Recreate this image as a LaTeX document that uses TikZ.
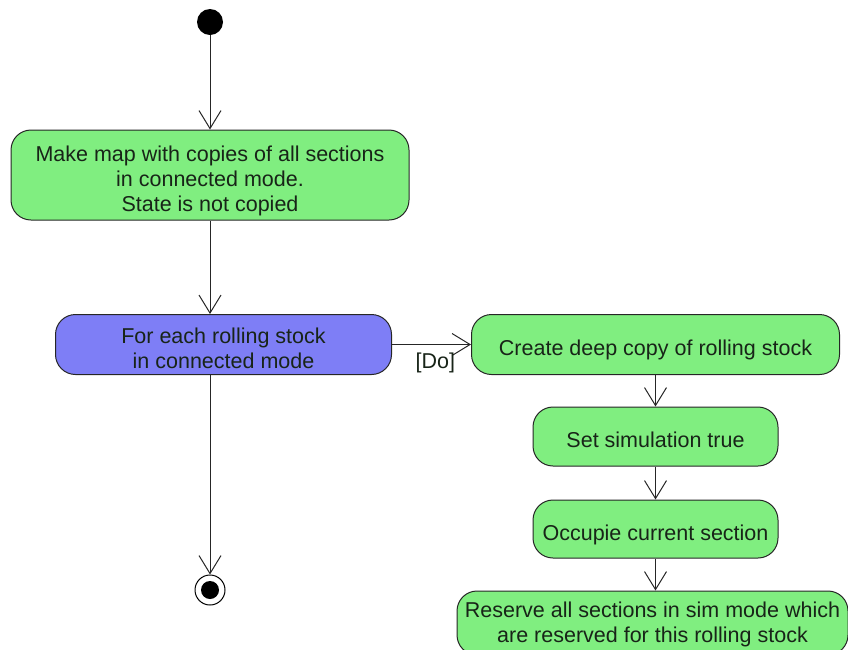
\documentclass[tikz,border=0pt]{standalone}
\usepackage{fontspec}
\setmainfont{Liberation Sans}
\usetikzlibrary{arrows.meta}
\definecolor{actgreen}{RGB}{128,238,128}
\definecolor{actblue}{RGB}{126,126,246}
\definecolor{inkdark}{RGB}{24,36,24}
% centred block of lines, set a little below the middle of its box
\newcommand\acttext[2][6pt]{\raisebox{-#1}[\height][\depth]{\begin{tabular}{@{}c@{}}#2\end{tabular}}}
\begin{document}
\begin{tikzpicture}[x=1pt,y=-1pt,
  action/.style={draw=black!85,line width=1pt,rounded corners=20pt,fill=actgreen,
    text=inkdark,inner sep=0pt,
    font=\fontsize{21.5}{25}\selectfont},
  loopact/.style={action,fill=actblue},
  flow/.style={draw=black!85,line width=1pt,
    -{Straight Barb[length=18pt,width=22pt,line width=1pt]}},
  guard/.style={text=inkdark,font=\fontsize{21.5}{25}\selectfont,inner sep=0pt}]
\useasboundingbox (0,0) rectangle (848,649);

% initial and final nodes
\node (start) [circle,fill=black,minimum size=26pt,inner sep=0pt] at (210,22) {};
\node (finish) [circle,draw=black,line width=1pt,minimum size=30pt,inner sep=0pt] at (210,590) {};
\node (finishdot) [circle,fill=black,minimum size=18pt,inner sep=0pt] at (210,590) {};

% actions
\node (mkmap) [action,minimum width=398pt,minimum height=90pt] at (210,175)
  {\acttext{Make map with copies of all sections\\in connected mode.\\State is not copied}};
\node (foreach) [loopact,minimum width=336pt,minimum height=60pt] at (223.5,344.5)
  {\acttext{For each rolling stock\\in connected mode}};
\node (deepcopy) [action,minimum width=368pt,minimum height=60pt] at (655.5,344.5)
  {\acttext{Create deep copy of rolling stock}};
\node (simtrue) [action,minimum width=245pt,minimum height=59pt] at (655.5,436.5)
  {\acttext{Set simulation true}};
\node (occupy) [action,minimum width=245pt,minimum height=58pt] at (655.5,529)
  {\acttext{Occupie current section}};
\node (reserve) [action,minimum width=391pt,minimum height=64pt] at (652.5,623)
  {\acttext[2pt]{Reserve all sections in sim mode which\\are reserved for this rolling stock}};

% control flow
\draw[flow] (start) -- (mkmap.north);
\draw[flow] (mkmap.south) -- (mkmap.south |- foreach.north);
\draw[flow] (finish |- foreach.south) -- (finish.north);
\draw[flow] (foreach.east) -- (deepcopy.west)
  node[guard,pos=0.55,below=8pt] {[Do]};
\draw[flow] (deepcopy.south -| simtrue) -- (simtrue.north);
\draw[flow] (simtrue.south) -- (occupy.north);
\draw[flow] (occupy.south) -- (occupy.south |- reserve.north);
\end{tikzpicture}
\end{document}
